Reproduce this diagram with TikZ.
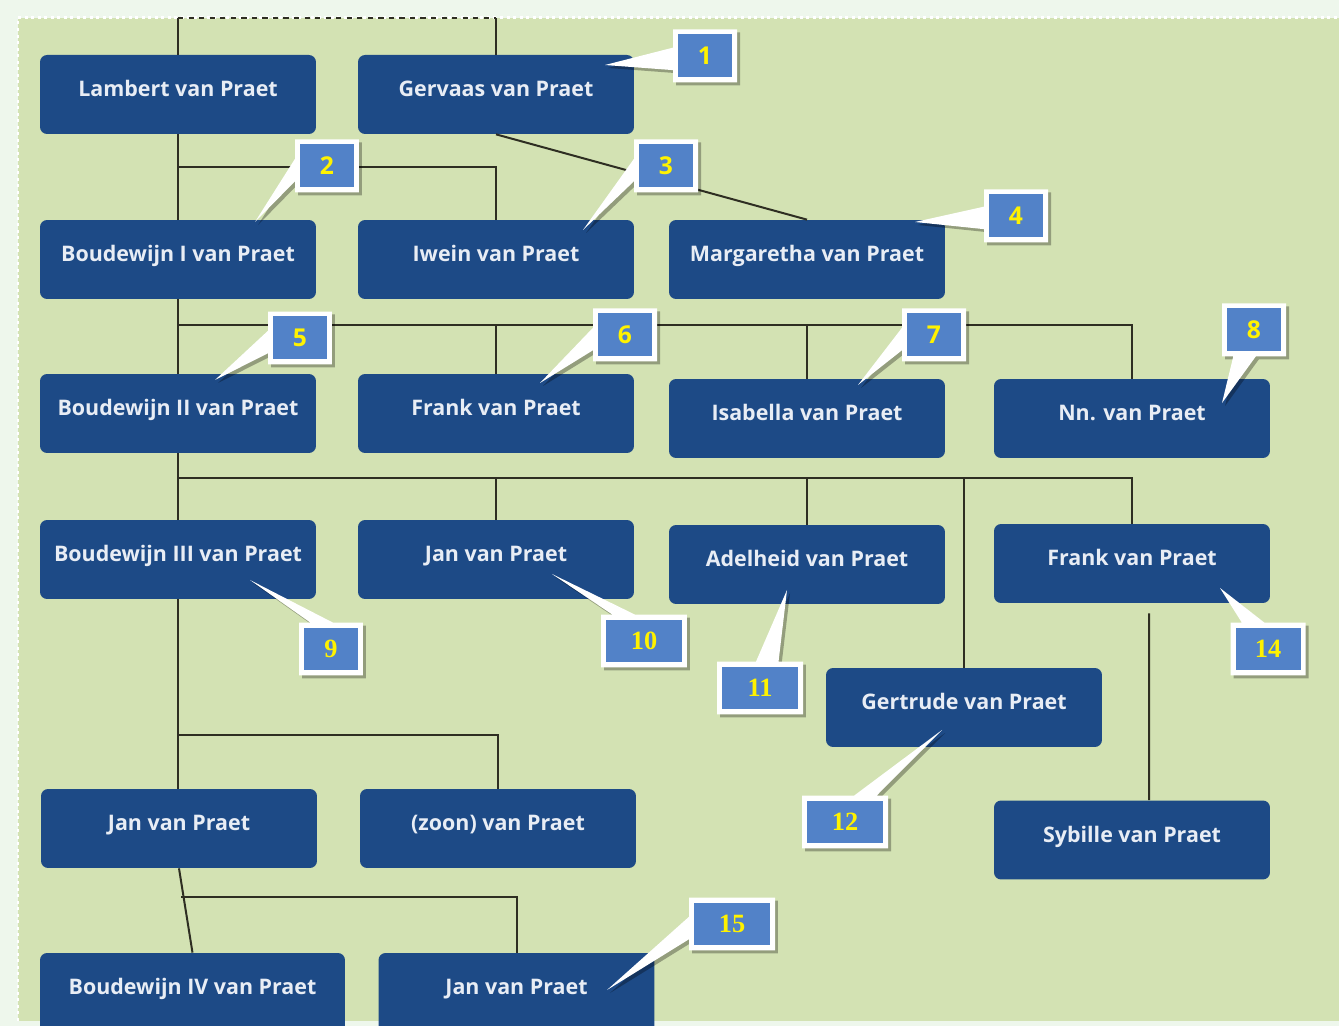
\documentclass[tikz,border=0pt]{standalone}
\usepackage{fontspec}
\setmainfont{Open Sans}
\newfontfamily\numserif{Liberation Serif}
\usetikzlibrary{shapes.callouts}
\usetikzlibrary{shadows}

\definecolor{panelgreen}{HTML}{D3E2B3}
\definecolor{marginwhite}{HTML}{EEF7EC}
\definecolor{boxblue}{HTML}{1D4A86}
\definecolor{tagblue}{HTML}{5282C8}
\definecolor{linegrey}{HTML}{2E2E22}
\definecolor{namewhite}{HTML}{E8EDF5}

\tikzset{
	person/.style={rectangle, rounded corners=.14cm, fill=boxblue, text=namewhite, font=\bfseries\fontsize{12.2}{14}\selectfont, minimum width=5.52cm, minimum height=1.58cm, text height=.38cm, text depth=.3cm, inner sep=0pt},
	tie/.style={draw=linegrey, line width=.04cm},
	bubble/.style={rectangle callout, fill=white, minimum width=1.28cm, minimum height=1.06cm, callout pointer width=.45cm, inner sep=0pt, drop shadow={shadow xshift=.06cm, shadow yshift=-.06cm, fill=black, opacity=.3}},
	widebubble/.style={bubble, minimum width=1.72cm},
	tag/.style={rectangle, fill=tagblue, text=yellow, minimum width=1.08cm, minimum height=.86cm, inner sep=0pt, font=\bfseries\fontsize{14}{16}\selectfont},
	widetag/.style={tag, minimum width=1.52cm, font=\numserif\bfseries\fontsize{15}{17}\selectfont},
}

\begin{document}
\begin{tikzpicture}[x=.02cm, y=-.02cm, every edge/.style={tie}]
		\useasboundingbox (0,0) rectangle (1339,1026);
		\clip (0,0) rectangle (1339,1026);
		\fill[marginwhite] (0,0) rectangle (1339,1026);
		\fill[panelgreen] (18,18) rectangle (1339,1021);
		\draw[white, dotted, line width=.06cm] (18,1021) |- (1339,18);
		
		\node[person] (Lambert) at (178,94.5) {Lambert van Praet};
		\node[person] (Gervaas) at (496,94.5) {Gervaas van Praet};
		
		\node[person] (BoudewijnI) at (178,259.5) {Boudewijn I van Praet};
		\node[person] (Iwein) at (496,259.5) {Iwein van Praet};
		\node[person] (Margaretha) at (807,259.5) {Margaretha van Praet};
		
		\node[person] (BoudewijnII) at (178,413.5) {Boudewijn II van Praet};
		\node[person] (FrankI) at (496,413.5) {Frank van Praet};
		\node[person] (Isabella) at (807,418.5) {Isabella van Praet};
		\node[person] (Nn) at (1132,418.5) {Nn. van Praet};
		
		\node[person] (BoudewijnIII) at (178,559.5) {Boudewijn III van Praet};
		\node[person] (JanI) at (496,559.5) {Jan van Praet};
		\node[person] (Adelheid) at (807,564.5) {Adelheid van Praet};
		\node[person] (FrankII) at (1132,563.5) {Frank van Praet};
		\node[person] (Gertrude) at (964,707.5) {Gertrude van Praet};
		\node[person] (Sybille) at (1132,840) {Sybille van Praet};
		
		\node[person] (JanII) at (179,828.5) {Jan van Praet};
		\node[person] (Zoon) at (498,828.5) {(zoon) van Praet};
		
		\node[person, minimum width=6.1cm] (BoudewijnIV) at (192.5,992.5) {Boudewijn IV van Praet};
		\node[person] (JanIII) at (516.5,992.5) {Jan van Praet};
		
		\coordinate (top1) at (178,18);
		\coordinate (top2) at (496,18);
		\coordinate (bus1) at (178,167);
		\coordinate (bus2) at (178,325);
		\coordinate (bus3) at (178,478);
		\coordinate (bus4) at (178,735);
		\coordinate (bus5) at (181,897);
		
		\draw[tie, dashed] (top1) -- (top2);
		\path (top1) edge (Lambert.north);
		\path (top2) edge (Gervaas.north);
		\path (Lambert.south) edge (BoudewijnI.north);
		\draw[tie] (bus1) -| (Iwein.north);
		\path (Gervaas.south) edge (Margaretha.north);
		
		\path (BoudewijnI.south) edge (BoudewijnII.north);
		\draw[tie] (bus2) -| (Nn.north);
		\path (bus2 -| FrankI.north) edge (FrankI.north);
		\path (bus2 -| Isabella.north) edge (Isabella.north);
		
		\path (BoudewijnII.south) edge (BoudewijnIII.north);
		\draw[tie] (bus3) -| (FrankII.north);
		\path (bus3 -| JanI.north) edge (JanI.north);
		\path (bus3 -| Adelheid.north) edge (Adelheid.north);
		\path (bus3 -| Gertrude.north) edge (Gertrude.north);
		\path ([shift={(17,10)}]FrankII.south) edge ([xshift=.34cm]Sybille.north);
		
		\path (BoudewijnIII.south) edge (BoudewijnIII.south |- JanII.north);
		\draw[tie] (bus4) -| (Zoon.north);
		
		\path (JanII.south) edge (BoudewijnIV.north);
		\draw[tie] (bus5) -| (JanIII.north);
		
		\node[bubble, callout absolute pointer={(605,65)}] (b1) at (705,56) {};
		\node[tag] (t1) at (b1) {1};
		\node[bubble, callout absolute pointer={(255,222)}] (b2) at (327,166) {};
		\node[tag] (t2) at (b2) {2};
		\node[bubble, callout absolute pointer={(583,230)}] (b3) at (666,166) {};
		\node[tag] (t3) at (b3) {3};
		\node[bubble, callout absolute pointer={(915,222)}] (b4) at (1016,216) {};
		\node[tag] (t4) at (b4) {4};
		\node[bubble, callout absolute pointer={(215,380)}] (b5) at (300,338) {};
		\node[tag] (t5) at (b5) {5};
		\node[bubble, callout absolute pointer={(540,383)}] (b6) at (625,335) {};
		\node[tag] (t6) at (b6) {6};
		\node[bubble, callout absolute pointer={(858,385)}] (b7) at (934,335) {};
		\node[tag] (t7) at (b7) {7};
		\node[bubble, callout absolute pointer={(1222,403)}] (b8) at (1254,330) {};
		\node[tag] (t8) at (b8) {8};
		\node[bubble, callout absolute pointer={(250,580)}] (b9) at (331,649) {};
		\node[tag, font=\numserif\bfseries\fontsize{15}{17}\selectfont] (t9) at (b9) {9};
		\node[widebubble, callout absolute pointer={(552,574)}] (b10) at (644,641) {};
		\node[widetag] (t10) at (b10) {10};
		\node[widebubble, callout absolute pointer={(787,590)}] (b11) at (760,688) {};
		\node[widetag] (t11) at (b11) {11};
		\node[widebubble, callout absolute pointer={(942,730)}] (b12) at (845,822) {};
		\node[widetag] (t12) at (b12) {12};
		\node[widebubble, minimum width=1.5cm, callout absolute pointer={(1220,588)}] (b14) at (1268,649) {};
		\node[widetag, minimum width=1.3cm] (t14) at (b14) {14};
		\node[widebubble, callout absolute pointer={(607,990)}] (b15) at (732,924) {};
		\node[widetag] (t15) at (b15) {15};
	\end{tikzpicture}
\end{document}
